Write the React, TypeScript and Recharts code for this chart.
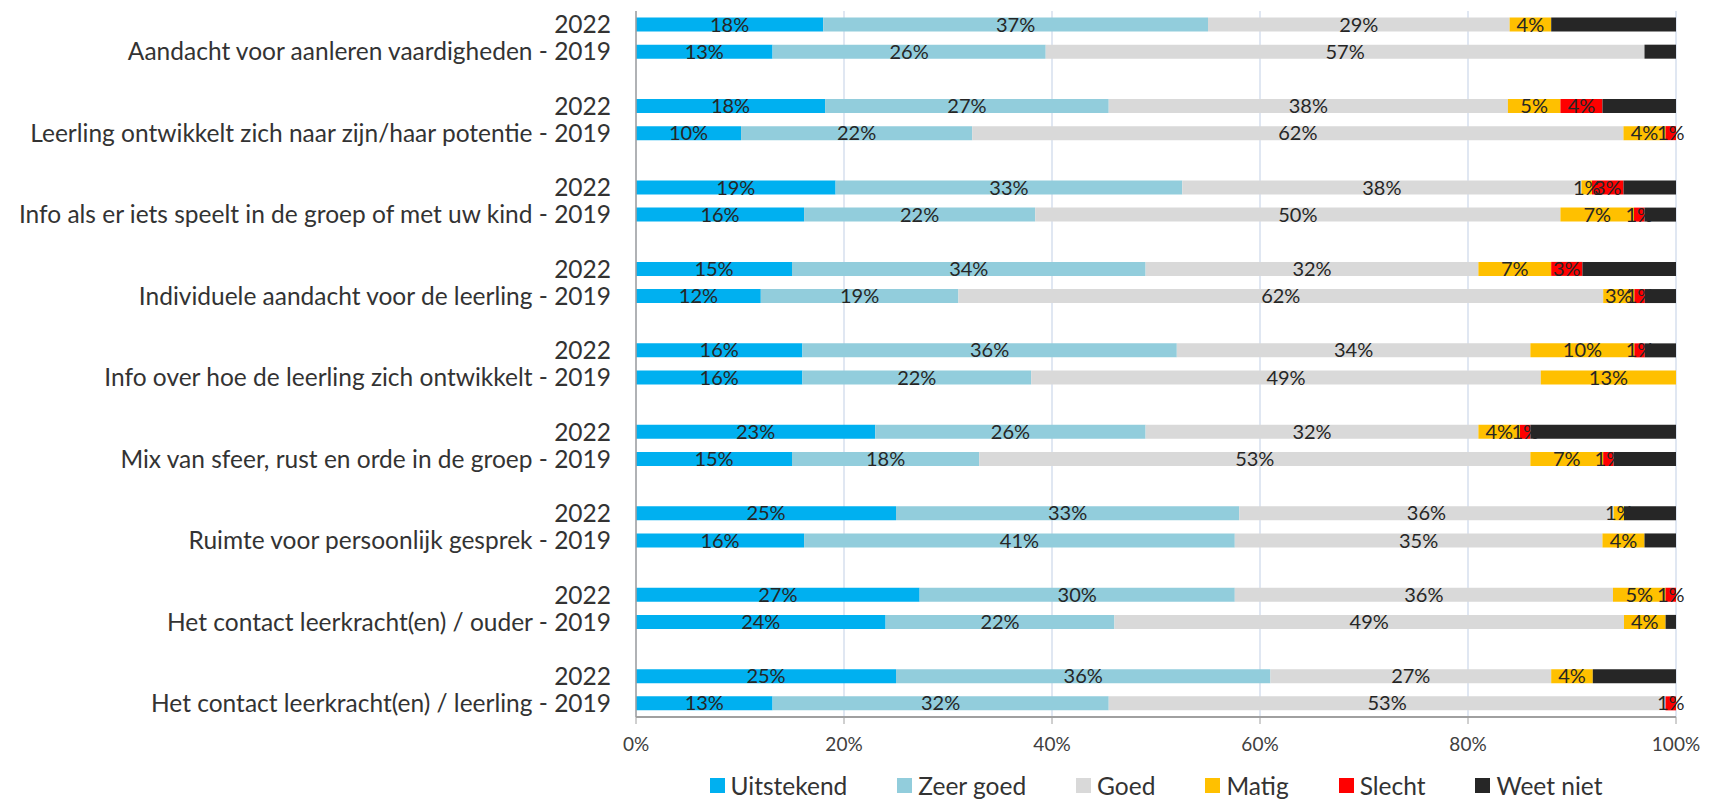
import React from "react";
import { BarChart, Bar, XAxis, YAxis, CartesianGrid, Legend, LabelList } from "recharts";

// Vragen (categorieën), van boven naar beneden
const groups = [
  "Aandacht voor aanleren vaardigheden",
  "Leerling ontwikkelt zich naar zijn/haar potentie",
  "Info als er iets speelt in de groep of met uw kind",
  "Individuele aandacht voor de leerling",
  "Info over hoe de leerling zich ontwikkelt",
  "Mix van sfeer, rust en orde in de groep",
  "Ruimte voor persoonlijk gesprek",
  "Het contact leerkracht(en) / ouder",
  "Het contact leerkracht(en) / leerling",
];

// per vraag: [2022, 2019]
const uitstekend = [18, 13, 18, 10, 19, 16, 15, 12, 16, 16, 23, 15, 25, 16, 27, 24, 25, 13];
const zeerGoed = [37, 26, 27, 22, 33, 22, 34, 19, 36, 22, 26, 18, 33, 41, 30, 22, 36, 32];
const goed = [29, 57, 38, 62, 38, 50, 32, 62, 34, 49, 32, 53, 36, 35, 36, 49, 27, 53];
const matig = [4, 0, 5, 4, 1, 7, 7, 3, 10, 13, 4, 7, 1, 4, 5, 4, 4, 0];
const slecht = [0, 0, 4, 1, 3, 1, 3, 1, 1, 0, 1, 1, 0, 0, 1, 0, 0, 1];
const weetNiet = [12, 3, 7, 0, 5, 3, 9, 3, 3, 0, 14, 6, 5, 3, 0, 1, 8, 0];

const xTicks = [0, 0.2, 0.4, 0.6, 0.8, 1];

const series = [
  { key: "u", name: "Uitstekend", color: "#00B0F0", label: true },
  { key: "z", name: "Zeer goed", color: "#92CDDC", label: true },
  { key: "g", name: "Goed", color: "#D9D9D9", label: true },
  { key: "m", name: "Matig", color: "#FFC000", label: true },
  { key: "s", name: "Slecht", color: "#FF0000", label: true },
  { key: "w", name: "Weet niet", color: "#262626", label: false },
];

// rijen opbouwen: 2022, 2019, lege regel tussen de groepen
const rows: any[] = [];
groups.forEach((g, i) => {
  [0, 1].forEach((k) => {
    const j = i * 2 + k;
    rows.push({
      id: `${g}-${k}`,
      label: k === 0 ? "2022" : `${g} - 2019`,
      u: uitstekend[j],
      z: zeerGoed[j],
      g: goed[j],
      m: matig[j],
      s: slecht[j],
      w: weetNiet[j],
    });
  });
  if (i < groups.length - 1) {
    rows.push({ id: `gap-${i}`, label: "", u: 0, z: 0, g: 0, m: 0, s: 0, w: 0 });
  }
});

const labelById: Record<string, string> = Object.fromEntries(rows.map((r) => [r.id, r.label]));

const FONT = "Lato, 'Open Sans', sans-serif";

function LegendContent() {
  return (
    <div
      style={{
        display: "flex",
        justifyContent: "center",
        alignItems: "center",
        gap: 50,
        height: 45,
        paddingTop: 12,
        boxSizing: "border-box",
        fontFamily: FONT,
        fontSize: 24.5,
        color: "#333",
      }}
    >
      {series.map((s) => (
        <div key={s.key} style={{ display: "flex", alignItems: "center" }}>
          <span style={{ width: 15, height: 15, background: s.color, marginRight: 6, display: "inline-block" }} />
          <span>{s.name}</span>
        </div>
      ))}
    </div>
  );
}

export default function App() {
  return (
    <div style={{ position: "absolute", left: 0, top: 0, width: 1711, height: 802, background: "#fff", fontFamily: FONT }}>
      <BarChart
        width={1711}
        height={802}
        data={rows}
        layout="vertical"
        stackOffset="expand"
        barCategoryGap="24%"
        margin={{ top: 11, right: 35, left: 0, bottom: 0 }}
      >
        <CartesianGrid horizontal={false} stroke="#D6DFEE" strokeWidth={1.5} />
        <XAxis
          type="number"
          domain={[0, 1]}
          ticks={xTicks}
          tickFormatter={(v: number) => `${Math.round(v * 100)}%`}
          tickSize={7}
          tickMargin={14}
          height={40}
          stroke="#A0A0A0"
          axisLine={{ stroke: "#A0A0A0", strokeWidth: 2 }}
          tick={{ fill: "#404040", fontSize: 19, fontFamily: FONT }}
        />
        <YAxis
          type="category"
          dataKey="id"
          width={636}
          interval={0}
          tickLine={false}
          tickSize={20}
          tickMargin={5}
          tickFormatter={(v: string) => labelById[v] ?? ""}
          axisLine={{ stroke: "#A0A0A0", strokeWidth: 1.5 }}
          tick={{ fill: "#333", fontSize: 24.5, fontFamily: FONT }}
        />
        <Legend
          verticalAlign="bottom"
          height={45}
          wrapperStyle={{ left: 636, width: 1040 }}
          content={() => <LegendContent />}
        />
        {series.map((s) => (
          <Bar key={s.key} dataKey={s.key} name={s.name} stackId="a" fill={s.color} isAnimationActive={false}>
            {s.label && (
              <LabelList
                dataKey={s.key}
                position="center"
                formatter={(v: any) => (v ? `${v}%` : "")}
                style={{ fill: "#262626", fontSize: 20, fontFamily: FONT }}
              />
            )}
          </Bar>
        ))}
      </BarChart>
    </div>
  );
}
